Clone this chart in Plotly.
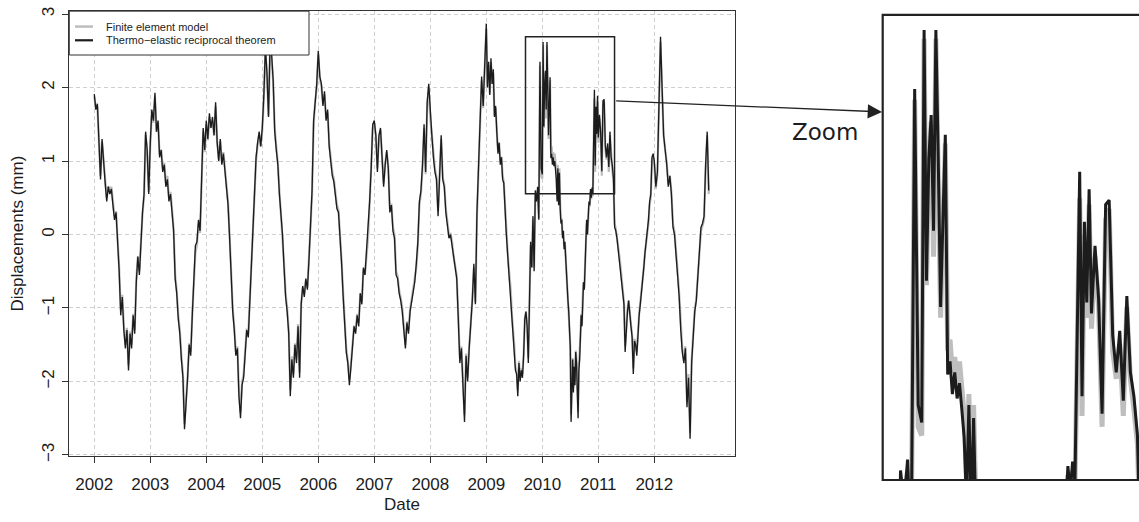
import plotly.graph_objects as go

W, H = 1139, 522

# Thermo-elastic reciprocal theorem (black), values per year, evenly spaced within each year
tert_2002 = [1.91, 1.70, 1.78, 1.15, 0.75, 1.30, 0.95, 0.70, 0.45, 0.65, 0.55, 0.62, 0.40, 0.20, 0.30, -0.05, -0.50, -1.10, -0.85, -1.30, -1.55, -1.30, -1.85, -1.35, -1.55, -1.10, -1.35, -0.65, -0.30, -0.55, -0.05, 0.30, 0.55, 1.40, 1.15, 0.55]
tert_2003 = [1.25, 1.70, 1.55, 1.93, 1.40, 1.55, 1.05, 1.15, 0.85, 0.95, 0.65, 0.75, 0.45, 0.55, 0.30, 0.05, -0.60, -0.80, -1.15, -1.35, -1.70, -1.95, -2.65, -2.35, -1.95, -1.50, -1.65, -1.10, -0.70, -0.15, -0.10, 0.20, 0.05, 0.90, 1.45, 1.15]
tert_2004 = [1.55, 1.30, 1.65, 1.45, 1.60, 1.35, 1.80, 1.25, 1.00, 1.30, 0.95, 1.10, 0.85, 0.70, 0.40, -0.05, -0.70, -1.05, -1.30, -1.65, -1.55, -2.20, -2.50, -2.05, -1.95, -1.60, -1.30, -1.40, -0.90, -0.45, -0.05, 0.45, 1.05, 1.25, 1.40, 1.20]
tert_2005 = [1.45, 1.90, 2.55, 2.20, 1.60, 2.60, 2.45, 2.10, 1.40, 1.15, 0.95, 0.55, 0.25, 0.00, -0.45, -0.85, -1.05, -1.35, -2.20, -1.70, -1.95, -1.50, -1.75, -1.25, -1.95, -0.95, -0.70, -0.85, -0.60, -0.75, -0.35, 0.15, 0.60, 1.55, 1.85, 2.05]
tert_2006 = [2.50, 2.15, 2.05, 1.75, 1.95, 1.55, 1.70, 1.20, 1.00, 0.80, 0.72, 0.55, 0.35, 0.30, 0.00, -0.40, -0.85, -1.25, -1.60, -1.75, -2.05, -1.80, -1.45, -1.25, -1.35, -1.10, -1.25, -0.80, -0.95, -0.45, -0.55, -0.20, 0.00, 0.45, 0.90, 1.50]
tert_2007 = [1.55, 1.35, 0.85, 1.35, 1.45, 1.05, 0.65, 0.95, 1.15, 0.90, 0.30, 0.40, 0.05, -0.05, -0.55, -0.60, -0.80, -0.90, -1.05, -1.30, -1.55, -1.20, -1.35, -1.05, -0.90, -0.80, -0.65, -0.40, -0.10, 0.45, 0.60, 0.95, 1.50, 0.85, 1.80, 2.05]
tert_2008 = [1.60, 1.35, 1.05, 0.85, 0.75, 0.25, 0.80, 1.35, 0.75, 0.65, 0.30, 0.10, -0.05, 0.00, -0.15, -0.35, -0.45, -0.60, -1.15, -1.75, -1.55, -2.05, -2.55, -1.65, -2.00, -1.55, -1.25, -0.90, -0.40, -0.95, 0.30, 0.85, 1.55, 2.15, 1.75, 2.30]
tert_2009 = [2.87, 2.00, 2.35, 1.90, 2.40, 2.05, 2.25, 1.60, 1.75, 1.40, 1.10, 1.25, 0.95, 1.05, 0.75, 0.70, 0.30, 0.05, -0.20, -0.45, -0.65, -0.80, -1.15, -1.30, -1.55, -1.85, -1.90, -2.20, -1.75, -2.00, -1.85, -1.95, -1.65, -1.15, -1.05, -1.25, -1.75, -0.90, -0.10, -0.45, 0.25, -0.50, 0.60, 0.45, 0.65, 0.20, 2.35, 0.90]
tert_2010 = [0.82, 2.62, 1.47, 2.03, 2.23, 1.70, 2.62, 2.03, 1.35, 1.75, 2.14, 1.04, 1.10, 0.95, 1.05, 0.93, 1.00, 0.88, 0.75, 0.45, 0.90, 0.40, 0.84, 0.35,
             0.15, 0.20, -0.05, 0.05, -0.20, -0.10, -0.35, -0.45, -0.70, -0.90, -1.05, -1.30, -1.55, -2.55, -2.00, -1.70, -2.15, -1.80, -2.05, -1.60, -1.75, -2.10, -2.50, -1.85,
             -1.70, -1.40, -1.10, -1.25, -0.85, -0.65, -0.75, -0.45, -0.30, 0.20, 0.00, 0.25, 0.45, 0.40, 0.62, 0.50, 0.64, 0.55, 1.20, 1.97, 0.94, 1.74, 1.37, 1.89]
tert_2011 = [1.32, 1.63, 1.39, 0.86, 1.82, 1.84, 1.22, 1.05, 1.24, 0.92, 1.40, 1.05, 0.94, 0.76, 0.10, 0.05, -0.05, -0.20, -0.30, -0.45, -0.65, -0.80, -0.95, -1.60, -1.20, -1.05, -0.90, -1.15, -1.25, -1.40, -1.90, -1.45, -1.50, -1.65, -1.25, -1.10, -0.95, -0.80, -0.65, -0.45, -0.25, -0.10, 0.05, 0.20, 0.45, 0.55, 1.05, 1.10]
tert_2012 = [1.00, 0.65, 0.85, 1.80, 2.69, 2.00, 1.35, 1.15, 0.95, 0.65, 0.80, 0.55, 0.10, 0.00, -0.25, -0.55, -0.85, -1.30, -1.60, -1.75, -1.55, -2.35, -1.95, -2.78, -1.75, -1.40, -1.05, -0.90, -0.60, -0.30, 0.10, 0.15, 0.25, 0.95, 1.40, 0.60]

# Finite element model (grey)
fem_2002 = [1.88, 1.72, 1.74, 1.20, 0.80, 1.26, 0.98, 0.74, 0.50, 0.66, 0.60, 0.65, 0.45, 0.25, 0.32, -0.02, -0.45, -1.02, -0.82, -1.24, -1.50, -1.27, -1.78, -1.32, -1.50, -1.08, -1.30, -0.62, -0.30, -0.50, -0.05, 0.28, 0.52, 1.36, 1.12, 0.58]
fem_2003 = [1.22, 1.66, 1.52, 1.88, 1.40, 1.52, 1.08, 1.16, 0.90, 0.98, 0.70, 0.80, 0.50, 0.58, 0.34, 0.08, -0.55, -0.76, -1.10, -1.30, -1.65, -1.90, -2.58, -2.30, -1.92, -1.48, -1.60, -1.08, -0.72, -0.25, -0.15, 0.15, 0.02, 0.86, 1.40, 1.12]
fem_2004 = [1.50, 1.28, 1.60, 1.45, 1.55, 1.35, 1.74, 1.26, 1.02, 1.27, 0.98, 1.12, 0.88, 0.74, 0.44, -0.02, -0.66, -1.00, -1.26, -1.60, -1.52, -2.12, -2.42, -2.00, -1.90, -1.56, -1.28, -1.35, -0.88, -0.45, -0.08, 0.40, 1.00, 1.22, 1.36, 1.20]
fem_2005 = [1.42, 1.85, 2.48, 2.18, 1.62, 2.52, 2.40, 2.08, 1.45, 1.20, 0.98, 0.60, 0.30, 0.04, -0.40, -0.80, -1.00, -1.30, -2.12, -1.66, -1.90, -1.48, -1.70, -1.22, -1.88, -0.95, -0.72, -0.82, -0.62, -0.72, -0.38, 0.10, 0.55, 1.50, 1.80, 2.00]
fem_2006 = [2.45, 2.12, 2.02, 1.78, 1.90, 1.58, 1.66, 1.25, 1.05, 0.85, 0.76, 0.60, 0.40, 0.33, 0.04, -0.36, -0.80, -1.20, -1.55, -1.72, -1.98, -1.76, -1.42, -1.24, -1.30, -1.08, -1.20, -0.80, -0.92, -0.48, -0.55, -0.25, -0.05, 0.40, 0.86, 1.45]
fem_2007 = [1.52, 1.35, 0.90, 1.32, 1.42, 1.08, 0.70, 0.96, 1.12, 0.92, 0.35, 0.42, 0.10, 0.00, -0.50, -0.56, -0.76, -0.86, -1.00, -1.26, -1.50, -1.18, -1.30, -1.02, -0.88, -0.78, -0.65, -0.45, -0.15, 0.40, 0.55, 0.90, 1.45, 0.82, 1.75, 2.00]
fem_2008 = [1.58, 1.36, 1.08, 0.90, 0.78, 0.32, 0.82, 1.30, 0.78, 0.68, 0.35, 0.14, 0.00, 0.02, -0.10, -0.30, -0.42, -0.56, -1.10, -1.68, -1.52, -2.00, -2.46, -1.62, -1.95, -1.52, -1.22, -0.90, -0.45, -0.92, 0.25, 0.80, 1.50, 2.10, 1.72, 2.25]
fem_2009 = [2.80, 2.00, 2.30, 1.92, 2.35, 2.05, 2.20, 1.62, 1.72, 1.42, 1.15, 1.25, 1.00, 1.06, 0.80, 0.72, 0.35, 0.08, -0.15, -0.40, -0.60, -0.76, -1.10, -1.26, -1.50, -1.80, -1.86, -2.12, -1.72, -1.95, -1.82, -1.90, -1.62, -1.15, -1.05, -1.22, -1.68, -0.90, -0.15, -0.45, 0.20, -0.45, 0.56, 0.45, 0.60, 0.22, 2.30, 0.80]
fem_2010 = [0.76, 2.58, 1.45, 2.00, 2.20, 1.58, 2.58, 2.00, 1.30, 1.72, 2.10, 1.15, 1.20, 1.05, 1.12, 1.00, 1.10, 0.98, 0.85, 0.55, 0.95, 0.50, 0.90, 0.42,
            0.20, 0.22, 0.00, 0.05, -0.15, -0.10, -0.30, -0.42, -0.66, -0.86, -1.00, -1.25, -1.50, -2.45, -1.96, -1.68, -2.08, -1.76, -2.00, -1.58, -1.72, -2.05, -2.42, -1.82,
            -1.66, -1.38, -1.08, -1.22, -0.84, -0.65, -0.72, -0.45, -0.32, 0.15, 0.00, 0.20, 0.40, 0.38, 0.58, 0.48, 0.60, 0.52, 1.12, 1.85, 0.85, 1.68, 1.30, 1.82]
fem_2011 = [1.25, 1.58, 1.36, 0.80, 1.75, 1.80, 1.15, 1.02, 1.18, 0.85, 1.35, 1.02, 0.88, 0.72, 0.15, 0.08, -0.02, -0.16, -0.28, -0.42, -0.60, -0.76, -0.92, -1.52, -1.18, -1.02, -0.90, -1.10, -1.22, -1.36, -1.82, -1.42, -1.46, -1.60, -1.22, -1.08, -0.92, -0.78, -0.62, -0.45, -0.25, -0.12, 0.00, 0.15, 0.40, 0.50, 1.00, 1.05]
fem_2012 = [0.95, 0.62, 0.82, 1.75, 2.62, 1.95, 1.35, 1.15, 0.98, 0.68, 0.80, 0.58, 0.15, 0.04, -0.20, -0.50, -0.80, -1.25, -1.55, -1.70, -1.52, -2.28, -1.90, -2.70, -1.72, -1.36, -1.02, -0.88, -0.58, -0.32, 0.05, 0.12, 0.20, 0.90, 1.35, 0.55]

years = [2002, 2003, 2004, 2005, 2006, 2007, 2008, 2009, 2010, 2011, 2012]
tert_by_year = [tert_2002, tert_2003, tert_2004, tert_2005, tert_2006, tert_2007, tert_2008, tert_2009, tert_2010, tert_2011, tert_2012]
fem_by_year = [fem_2002, fem_2003, fem_2004, fem_2005, fem_2006, fem_2007, fem_2008, fem_2009, fem_2010, fem_2011, fem_2012]

year_ticks = [2002, 2003, 2004, 2005, 2006, 2007, 2008, 2009, 2010, 2011, 2012]
year_labels = ["2002", "2003", "2004", "2005", "2006", "2007", "2008", "2009", "2010", "2011", "2012"]
y_ticks = [-3, -2, -1, 0, 1, 2, 3]
y_labels = ["\u22123", "\u22122", "\u22121", "0", "1", "2", "3"]

zoom_box_x = [2009.70, 2011.29]
zoom_box_y = [0.556, 2.69]

t_all, tert_all, fem_all = [], [], []
for yr, tv, fv in zip(years, tert_by_year, fem_by_year):
    assert len(tv) == len(fv), (yr, len(tv), len(fv))
    n = len(tv)
    for k in range(n):
        t_all.append(yr + k / n)
        tert_all.append(tv[k])
        fem_all.append(fv[k])


def px(x):
    return x / W


def py(y):
    return 1 - y / H


BLACK = "#1c1c1c"
GREY = "#bebebe"
FONT = "Liberation Sans"

fig = go.Figure()
fig.add_trace(go.Scatter(x=t_all, y=fem_all, mode="lines", line=dict(color=GREY, width=2.2),
                         name="Finite element model", showlegend=False, xaxis="x", yaxis="y"))
fig.add_trace(go.Scatter(x=t_all, y=tert_all, mode="lines", line=dict(color=BLACK, width=1.35),
                         name="Thermo\u2212elastic reciprocal theorem", showlegend=False, xaxis="x", yaxis="y"))
fig.add_trace(go.Scatter(x=t_all, y=fem_all, mode="lines", line=dict(color=GREY, width=5),
                         showlegend=False, xaxis="x2", yaxis="y2"))
fig.add_trace(go.Scatter(x=t_all, y=tert_all, mode="lines", line=dict(color=BLACK, width=3),
                         showlegend=False, xaxis="x2", yaxis="y2"))

grid = dict(showgrid=True, gridcolor="#cfcfcf", griddash="4px,3px", gridwidth=1)
fig.update_layout(
    width=W, height=H,
    margin=dict(l=0, r=0, t=0, b=0),
    paper_bgcolor="white", plot_bgcolor="white",
    font=dict(family=FONT, size=17, color=BLACK),
    showlegend=False,
    xaxis=dict(domain=[px(69.3), px(735)], range=[2001.554, 2013.441],
               tickmode="array", tickvals=year_ticks, ticktext=year_labels,
               ticks="outside", ticklen=6, tickcolor="#333", tickwidth=1,
               showline=True, mirror=True, linecolor="#333", linewidth=1,
               zeroline=False, ticklabelstandoff=6,
               tickfont=dict(family=FONT, size=17, color=BLACK), **grid),
    yaxis=dict(domain=[py(461), py(7.3)], range=[-3.017, 3.04],
               tickmode="array", tickvals=y_ticks, ticktext=y_labels, tickangle=-90,
               ticks="outside", ticklen=6, tickcolor="#333", tickwidth=1,
               showline=True, mirror=True, linecolor="#333", linewidth=1,
               zeroline=False, ticklabelstandoff=2,
               tickfont=dict(family=FONT, size=17, color=BLACK), **grid),
    xaxis2=dict(domain=[px(882.7), 1.0], range=[2009.77, 2011.28], visible=False,
                showgrid=False, zeroline=False, anchor="y2"),
    yaxis2=dict(domain=[py(485.3), py(11)], range=[0.556, 2.69], visible=False,
                showgrid=False, zeroline=False, anchor="x2"),
)

shapes = [
    # zoom rectangle in the main panel
    dict(type="rect", xref="x", yref="y", x0=zoom_box_x[0], x1=zoom_box_x[1],
         y0=zoom_box_y[0], y1=zoom_box_y[1], line=dict(color="#222", width=1.5), layer="above"),
    # inset frame
    dict(type="rect", xref="paper", yref="paper", x0=px(882.7), x1=1.02, y0=py(485.3), y1=py(11),
         line=dict(color="#222", width=2.2), layer="above"),
    # legend box
    dict(type="rect", xref="paper", yref="paper", x0=px(69.3), x1=px(309), y0=py(52), y1=py(7.3),
         fillcolor="white", line=dict(color="#333", width=1), layer="above"),
    dict(type="line", xref="paper", yref="paper", x0=px(75), x1=px(93), y0=py(23), y1=py(23),
         line=dict(color=GREY, width=2.5), layer="above"),
    dict(type="line", xref="paper", yref="paper", x0=px(75), x1=px(93), y0=py(37), y1=py(37),
         line=dict(color=BLACK, width=2.2), layer="above"),
]
fig.update_layout(shapes=shapes)

annotations = [
    dict(xref="paper", yref="paper", x=px(104), y=py(23), text="Finite element model",
         showarrow=False, xanchor="left", yanchor="middle", font=dict(family=FONT, size=11, color=BLACK)),
    dict(xref="paper", yref="paper", x=px(104), y=py(37), text="Thermo\u2212elastic reciprocal theorem",
         showarrow=False, xanchor="left", yanchor="middle", font=dict(family=FONT, size=11, color=BLACK)),
    dict(xref="paper", yref="paper", x=px(402), y=py(510), text="Date", showarrow=False,
         xanchor="center", yanchor="middle", font=dict(family=FONT, size=17, color=BLACK)),
    dict(xref="paper", yref="paper", x=px(18), y=py(234), text="Displacements (mm)", showarrow=False,
         textangle=-90, xanchor="center", yanchor="middle", font=dict(family=FONT, size=17, color=BLACK)),
    dict(xref="paper", yref="paper", x=px(825), y=py(131), text="Zoom", showarrow=False,
         xanchor="center", yanchor="middle", font=dict(family="DejaVu Sans", size=23, color=BLACK)),
    dict(xref="paper", yref="paper", x=px(882), y=py(110), text="", showarrow=True,
         axref="pixel", ayref="pixel", ax=614.7 - 882, ay=99 - 110,
         arrowhead=2, arrowsize=2.2, arrowwidth=1.3, arrowcolor="#222", standoff=0),
]
fig.update_layout(annotations=annotations)

fig.write_html("out.html", config={"displayModeBar": False})
